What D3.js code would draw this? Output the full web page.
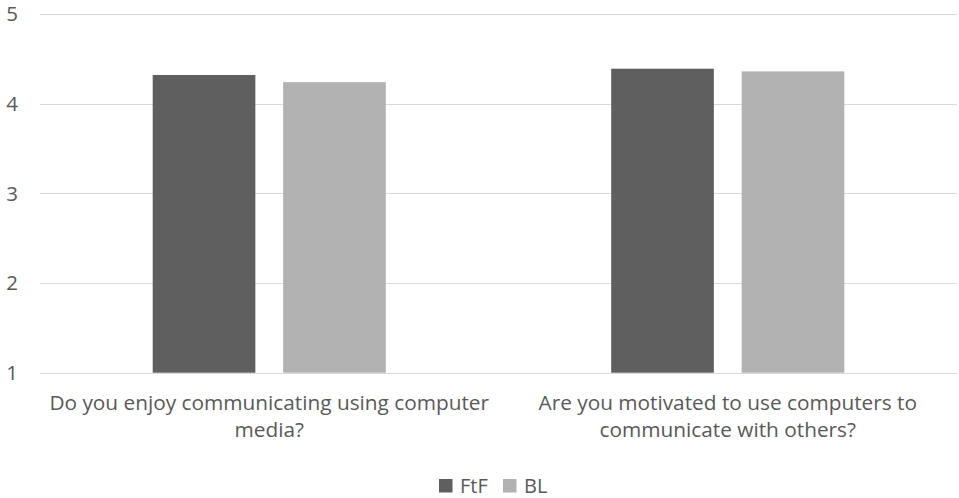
<!DOCTYPE html>
<html>
<head>
<meta charset="utf-8">
<script src="https://cdn.jsdelivr.net/npm/d3@7"></script>
<style>
  html, body { margin: 0; padding: 0; background: #fff; }
  svg { display: block; }
  text { font-family: "Open Sans", sans-serif; fill: #595959; }
</style>
</head>
<body>
<svg id="chart" width="959" height="498"></svg>
<script>
const categories = [
  "Do you enjoy communicating using computer media?",
  "Are you motivated to use computers to communicate with others?"
];
const seriesNames = ["FtF", "BL"];
const ftfValues = [4.32, 4.39];
const blValues = [4.24, 4.36];
const yTicks = [1, 2, 3, 4, 5];
const colors = ["#5f5f5f", "#b2b2b2"];

const W = 959, H = 498;
const margin = { left: 40, right: 2, top: 14, bottom: 125.3 };
const svg = d3.select("#chart");
const plotBottom = H - margin.bottom;

const x0 = d3.scaleBand().domain(categories).range([margin.left, W - margin.right]).padding(0);
const x1 = d3.scaleBand().domain(seriesNames).range([0, x0.bandwidth()])
  .paddingInner(0.213).paddingOuter(0.864);
const y = d3.scaleLinear().domain([1, 5]).range([plotBottom, margin.top]);

// gridlines
svg.append("g").selectAll("line").data(yTicks).join("line")
  .attr("x1", margin.left).attr("x2", W - margin.right)
  .attr("y1", d => Math.round(y(d)) + 0.5).attr("y2", d => Math.round(y(d)) + 0.5)
  .attr("stroke", "#d9d9d9").attr("stroke-width", 1);

// y tick labels
svg.append("g").selectAll("text").data(yTicks).join("text")
  .attr("x", 18).attr("y", d => y(d)).attr("dy", "0.36em")
  .attr("text-anchor", "end").attr("font-size", "20.5px")
  .text(d => d);

// bars
const data = categories.map((c, i) => ({ cat: c, vals: [ftfValues[i], blValues[i]] }));
const groups = svg.append("g").selectAll("g").data(data).join("g")
  .attr("transform", d => `translate(${x0(d.cat)},0)`);
groups.selectAll("rect").data(d => d.vals.map((v, j) => ({ s: seriesNames[j], v, j })))
  .join("rect")
  .attr("x", d => x1(d.s)).attr("width", x1.bandwidth())
  .attr("y", d => y(d.v)).attr("height", d => y(1) - y(d.v))
  .attr("fill", d => colors[d.j]);

// category labels with wrapping
const labelSize = 20.8;
const maxWidth = 455;
const labels = svg.append("g").selectAll("text").data(categories).join("text")
  .attr("text-anchor", "middle").attr("font-size", labelSize + "px")
  .attr("x", d => x0(d) + x0.bandwidth() / 2);
labels.each(function(d) {
  const t = d3.select(this);
  const words = d.split(" ");
  let line = [];
  let lines = [];
  const probe = t.append("tspan");
  words.forEach(w => {
    const test = line.concat([w]).join(" ");
    probe.text(test);
    if (probe.node().getComputedTextLength() > maxWidth && line.length) {
      lines.push(line.join(" "));
      line = [w];
    } else {
      line.push(w);
    }
  });
  lines.push(line.join(" "));
  probe.remove();
  lines.forEach((l, i) => {
    t.append("tspan").attr("x", x0(d) + x0.bandwidth() / 2)
      .attr("y", 410 + i * 26.5).text(l);
  });
});

// legend
const legendX = [439, 503];
const legend = svg.append("g").selectAll("g").data(seriesNames).join("g")
  .attr("transform", (d, i) => `translate(${legendX[i]},479)`);
legend.append("rect").attr("width", 13.5).attr("height", 13.5)
  .attr("fill", (d, i) => colors[i]);
legend.append("text").attr("x", 21).attr("y", 14).attr("font-size", "20px").text(d => d);
</script>
</body>
</html>
